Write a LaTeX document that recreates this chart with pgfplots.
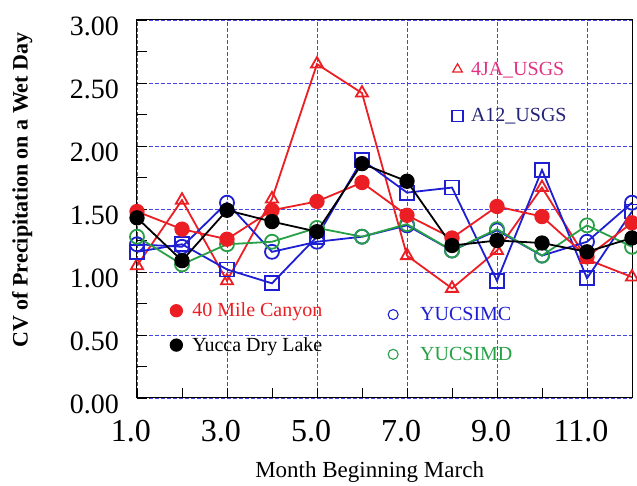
\documentclass[border=0pt]{standalone}
\usepackage{pgfplots}
\pgfplotsset{compat=1.18}
\usepackage{fontspec}
\setmainfont{Liberation Serif}
\definecolor{myred}{RGB}{235,30,35}
\definecolor{myblue}{RGB}{30,30,210}
\definecolor{mygreen}{RGB}{40,160,70}
\definecolor{pinktext}{RGB}{225,50,130}
\definecolor{navytext}{RGB}{35,35,120}
\definecolor{gridblue}{RGB}{70,70,230}
\newcommand\xf{\fontsize{32}{32}\selectfont}
\newcommand\yf{\fontsize{28}{28}\selectfont}
\newcommand\lf{\fontsize{20}{22}\selectfont}
\pgfplotsset{
  base/.style={scale only axis, width=495pt, height=378pt,
    xmin=1, xmax=12, ymin=0, ymax=3},
  legimg/.style={legend image code/.code={\draw[##1,only marks] plot coordinates {(6pt,0pt)};}},
  ser/.style={line width=1.8pt, mark size=7pt, mark options={line width=1.3pt, solid}},
}
\begin{document}
\begin{tikzpicture}
\begin{axis}[base, name=ax,
  axis line style={line width=1pt},
  xtick={1,3,5,7,9,11}, minor xtick={2,4,6,8,10,12},
  ytick={0,0.5,...,3}, minor ytick={0.25,0.75,...,2.75},
  tick pos=left, tick align=inside,
  major tick length=10pt, minor tick length=10pt,
  every tick/.style={black, line width=0.8pt},
  grid=major,
  major grid style={color=gridblue, dash pattern=on 4pt off 2pt, line width=0.8pt},
  /pgf/number format/assume math mode=true,
  xticklabel style={font=\xf, inner sep=0pt, yshift=-22pt, xshift=-6pt,
    /pgf/number format/.cd, fixed, fixed zerofill, precision=1},
  yticklabel style={font=\yf, inner sep=0pt, xshift=-18pt, yshift=-6pt,
    /pgf/number format/.cd, fixed, fixed zerofill, precision=2},
  xlabel={Month Beginning March},
  ylabel={\textbf{CV of Precipitation on a Wet Day}},
  every axis x label/.style={at={(axis description cs:0.47,-0.195)}, anchor=center, font=\fontsize{23}{23}\selectfont},
  every axis y label/.style={at={(axis description cs:-0.232,0.55)}, anchor=center, rotate=90, font=\fontsize{22}{22}\selectfont},
  legimg,
  legend cell align=left,
  legend style={draw=none, fill=none, at={(axis description cs:0.636,0.895)}, anchor=north west,
    font=\lf, inner sep=0pt, row sep=28pt, column sep=6pt},
  legend image post style={mark size=5.5pt, mark options={line width=1.2pt}},
]
\addplot[ser, myred, mark=triangle, mark options={fill=white}] coordinates {
 (1,1.05) (2,1.57) (3,0.93) (4,1.58) (5,2.65) (6,2.42) (7,1.13) (8,0.87) (9,1.17) (10,1.67) (11,1.10) (12,0.96)};
\addlegendentry{\textcolor{pinktext}{4JA\_USGS}}
\addplot[ser, myblue, mark=square, mark options={fill=white}] coordinates {
 (1,1.16) (2,1.22) (3,1.02) (4,0.91) (5,1.28) (6,1.89) (7,1.63) (8,1.67) (9,0.93) (10,1.81) (11,0.95) (12,1.48)};
\addlegendentry{\textcolor{navytext}{A12\_USGS}}
\end{axis}
\begin{axis}[base, hide axis, legimg,
  legend cell align=left,
  legend style={draw=none, fill=none, at={(axis description cs:0.507,0.246)}, anchor=north west,
    font=\lf, inner sep=0pt, row sep=21pt, column sep=20pt},
  legend image post style={mark size=5pt, mark options={line width=1.1pt}},
]
\addplot[ser, myblue, mark=o, mark options={fill=white}] coordinates {
 (1,1.22) (2,1.20) (3,1.55) (4,1.16) (5,1.24) (6,1.28) (7,1.37) (8,1.17) (9,1.33) (10,1.13) (11,1.24) (12,1.55)};
\addlegendentry{\textcolor{myblue}{YUCSIMC}}
\addplot[ser, mygreen, mark=o, mark options={fill=white}] coordinates {
 (1,1.28) (2,1.06) (3,1.22) (4,1.24) (5,1.35) (6,1.28) (7,1.38) (8,1.17) (9,1.34) (10,1.13) (11,1.37) (12,1.20)};
\addlegendentry{\textcolor{mygreen}{YUCSIMD}}
\end{axis}
\begin{axis}[base, hide axis, legimg,
  legend cell align=left,
  legend style={draw=none, fill=none, at={(axis description cs:0.067,0.257)}, anchor=north west,
    font=\lf, inner sep=0pt, row sep=15pt, column sep=8pt},
  legend image post style={mark size=6pt},
]
\addplot[ser, myred, mark=*] coordinates {
 (1,1.48) (2,1.34) (3,1.26) (4,1.49) (5,1.56) (6,1.71) (7,1.45) (8,1.27) (9,1.52) (10,1.44) (11,1.12) (12,1.39)};
\addlegendentry{\textcolor{myred}{40 Mile Canyon}}
\addplot[ser, black, mark=*] coordinates {
 (1,1.43) (2,1.09) (3,1.49) (4,1.40) (5,1.32) (6,1.86) (7,1.72) (8,1.21) (9,1.25) (10,1.23) (11,1.16) (12,1.27)};
\addlegendentry{Yucca Dry Lake}
\end{axis}
\pgfresetboundingbox
\useasboundingbox ([shift={(-137pt,-88pt)}]ax.south west) rectangle ([shift={(5pt,20pt)}]ax.north east);
\end{tikzpicture}
\end{document}
